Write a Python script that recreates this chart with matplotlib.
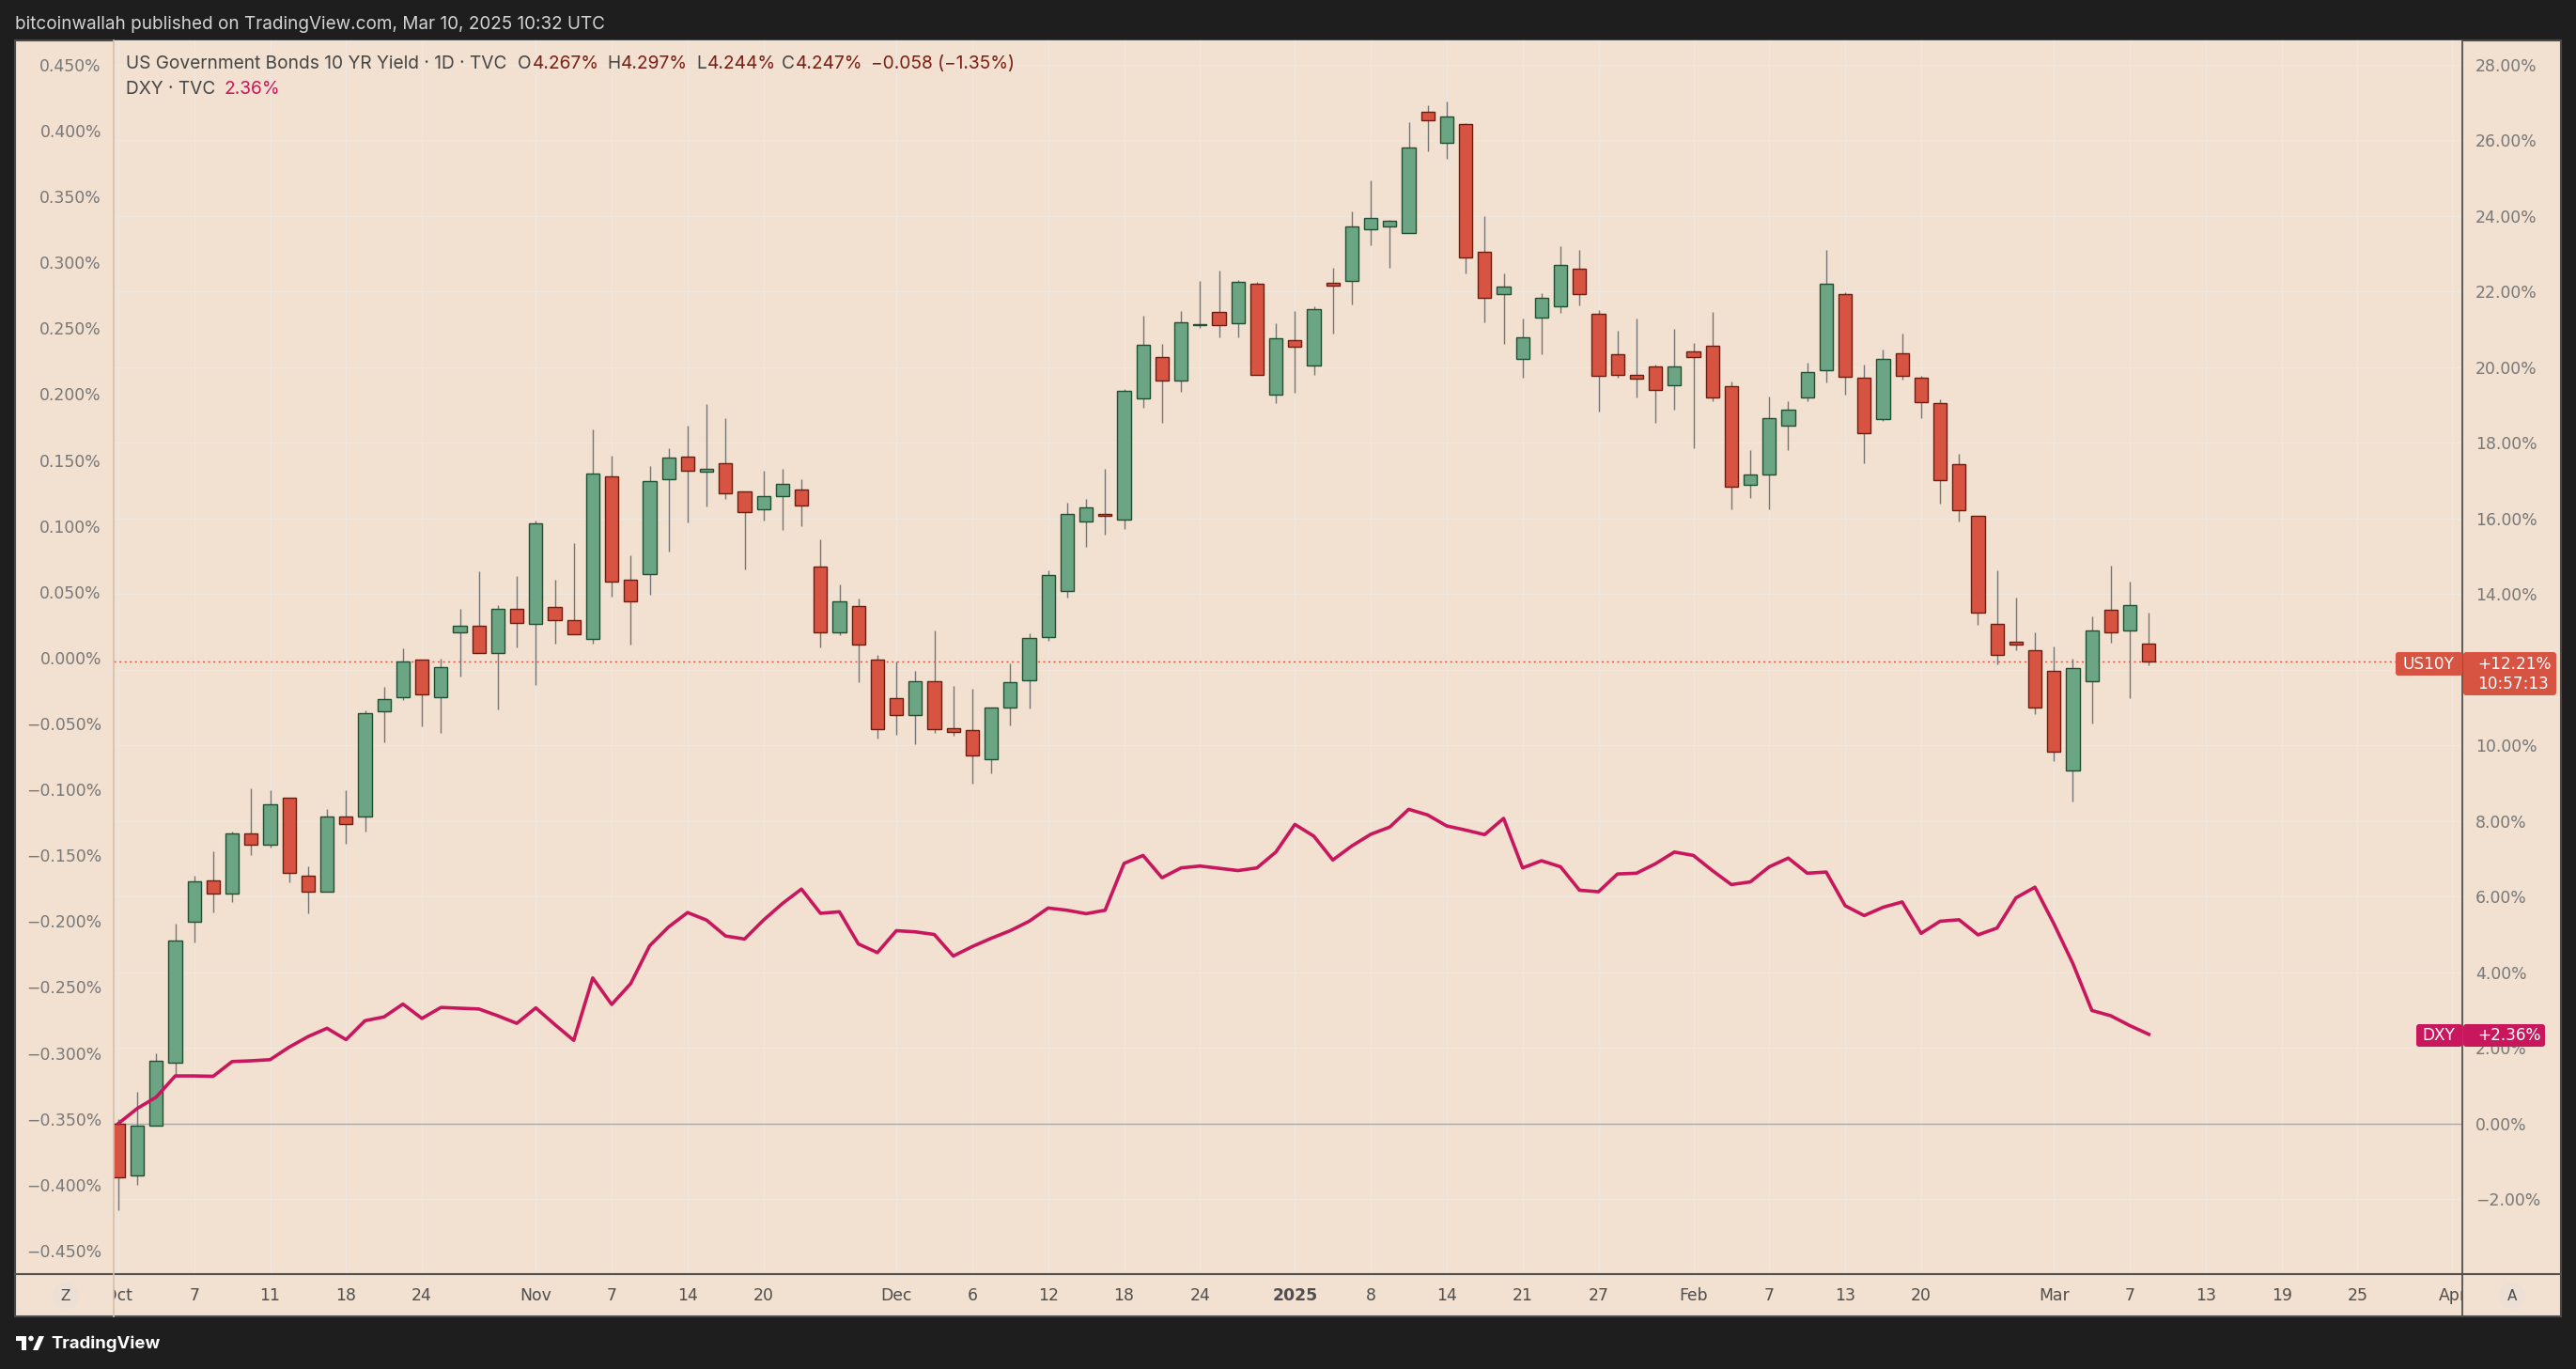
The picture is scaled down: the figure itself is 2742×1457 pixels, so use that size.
import numpy as np
import matplotlib.pyplot as plt
from matplotlib.patches import Rectangle, Circle, Polygon, FancyBboxPatch
from matplotlib.lines import Line2D
from matplotlib.transforms import IdentityTransform

W, H = 2742, 1457

# US10Y daily candles, % change vs first bar (right scale), Oct 1 2024 .. Mar 10 2025
us_open = [0.00, -1.37, -0.06, 1.61, 5.34, 6.43, 6.08, 7.66, 7.38, 8.62,
           6.55, 6.14, 8.12, 8.12, 10.91, 11.28, 12.28, 11.28, 12.99, 13.17,
           12.43, 13.60, 13.22, 13.66, 13.32, 12.81, 17.12, 14.38, 14.53, 17.04,
           17.64, 17.23, 17.46, 16.72, 16.25, 16.60, 16.77, 14.73, 13.00, 13.69,
           12.27, 11.25, 10.80, 11.70, 10.45, 10.41, 9.64, 11.00, 11.72, 12.87,
           14.08, 15.92, 16.11, 15.97, 19.18, 20.27, 19.65, 21.11, 21.47, 21.16,
           22.21, 19.27, 20.72, 20.05, 22.24, 22.29, 23.64, 23.73, 23.54, 26.74,
           25.94, 26.42, 23.06, 21.94, 20.23, 21.32, 21.62, 22.61, 21.41, 20.35,
           19.80, 20.01, 19.51, 20.42, 20.57, 19.50, 16.90, 17.16, 18.46, 19.20,
           19.93, 21.93, 19.73, 18.64, 20.37, 19.73, 19.04, 17.44, 16.06, 13.21,
           12.74, 12.51, 11.97, 9.34, 11.70, 13.59, 13.03, 12.69]
us_high = [0.11, 0.84, 1.85, 5.28, 6.55, 7.20, 7.72, 8.86, 8.81, 8.62,
           6.81, 8.33, 8.81, 10.92, 11.54, 12.57, 12.28, 12.29, 13.60, 14.61,
           13.71, 14.48, 15.94, 14.37, 15.34, 18.35, 17.65, 15.02, 17.38, 17.86,
           18.45, 19.02, 18.65, 16.72, 17.26, 17.31, 17.03, 15.44, 14.25, 13.88,
           12.38, 12.23, 11.96, 13.05, 11.56, 11.51, 11.00, 12.18, 12.97, 14.64,
           16.41, 16.51, 17.32, 19.43, 21.35, 20.61, 21.48, 22.28, 22.55, 22.31,
           22.26, 21.16, 21.48, 21.60, 22.62, 24.12, 24.93, 23.90, 26.48, 26.93,
           27.03, 26.46, 23.99, 22.48, 21.28, 21.95, 23.19, 23.10, 21.52, 20.96,
           21.28, 20.08, 21.01, 20.64, 21.46, 19.63, 17.80, 19.22, 19.09, 20.11,
           23.09, 21.99, 20.08, 20.46, 20.88, 19.78, 19.16, 17.70, 16.06, 14.62,
           13.92, 12.98, 12.61, 12.30, 13.42, 14.75, 14.32, 13.50]
us_low = [-2.30, -1.61, -0.06, 1.28, 4.80, 5.59, 5.86, 7.10, 7.31, 6.39,
          5.56, 6.14, 7.39, 7.72, 10.08, 11.19, 10.50, 10.34, 11.82, 12.43,
          10.94, 12.58, 11.60, 12.69, 12.94, 12.69, 13.94, 12.67, 13.98, 15.12,
          15.90, 16.32, 16.52, 14.65, 15.95, 15.70, 15.79, 12.59, 12.92, 11.68,
          10.18, 10.27, 10.04, 10.33, 10.26, 8.99, 9.26, 10.52, 10.98, 12.77,
          13.90, 15.26, 15.58, 15.73, 18.92, 18.52, 19.34, 21.03, 20.80, 20.80,
          19.79, 19.05, 19.33, 19.80, 20.88, 21.67, 23.22, 22.63, 23.54, 25.70,
          25.51, 22.48, 21.18, 20.61, 19.72, 20.35, 21.43, 21.63, 18.82, 19.72,
          19.19, 18.54, 18.88, 17.85, 19.11, 16.25, 16.53, 16.25, 17.81, 19.10,
          19.60, 19.28, 17.45, 18.57, 19.66, 18.65, 16.39, 15.93, 13.19, 12.15,
          12.52, 10.83, 9.58, 8.51, 10.59, 12.72, 11.25, 12.13]
us_close = [-1.42, -0.06, 1.66, 4.84, 6.41, 6.08, 7.66, 7.38, 8.43, 6.63,
            6.14, 8.12, 7.93, 10.86, 11.23, 12.22, 11.34, 12.08, 13.17, 12.43,
            13.60, 13.23, 15.88, 13.32, 12.94, 17.18, 14.33, 13.80, 17.00, 17.60,
            17.27, 17.32, 16.67, 16.18, 16.60, 16.92, 16.35, 13.00, 13.81, 12.67,
            10.43, 10.80, 11.70, 10.43, 10.36, 9.73, 11.00, 11.67, 12.85, 14.51,
            16.11, 16.29, 16.07, 19.37, 20.60, 19.65, 21.19, 21.13, 21.11, 22.26,
            19.79, 20.77, 20.54, 21.54, 22.15, 23.72, 23.95, 23.86, 25.80, 26.52,
            26.62, 22.89, 21.84, 22.12, 20.79, 21.84, 22.71, 21.94, 19.76, 19.80,
            19.70, 19.39, 20.01, 20.27, 19.21, 16.85, 17.16, 18.65, 18.88, 19.88,
            22.21, 19.74, 18.26, 20.22, 19.78, 19.08, 17.02, 16.22, 13.52, 12.40,
            12.66, 11.00, 9.83, 12.04, 13.03, 12.99, 13.71, 12.21]

# DXY close, % change vs first bar
dxy_pct = [0.00, 0.40, 0.70, 1.26, 1.26, 1.25, 1.64, 1.66, 1.69, 2.02,
           2.30, 2.52, 2.22, 2.72, 2.82, 3.16, 2.78, 3.07, 3.05, 3.03,
           2.85, 2.65, 3.06, 2.62, 2.20, 3.85, 3.15, 3.70, 4.70, 5.20,
           5.58, 5.38, 4.96, 4.88, 5.38, 5.82, 6.20, 5.56, 5.60, 4.75,
           4.52, 5.10, 5.07, 5.00, 4.43, 4.68, 4.90, 5.10, 5.35, 5.70,
           5.64, 5.55, 5.64, 6.88, 7.09, 6.50, 6.76, 6.81, 6.75, 6.69,
           6.76, 7.18, 7.91, 7.60, 6.97, 7.34, 7.65, 7.84, 8.31, 8.16,
           7.87, 7.76, 7.64, 8.07, 6.76, 6.95, 6.79, 6.17, 6.13, 6.60,
           6.62, 6.87, 7.18, 7.09, 6.69, 6.32, 6.39, 6.79, 7.02, 6.62,
           6.65, 5.76, 5.50, 5.72, 5.86, 5.03, 5.35, 5.39, 4.99, 5.17,
           5.97, 6.25, 5.28, 4.23, 2.99, 2.85, 2.59, 2.36]

price_ticks = list(range(-2, 30, 2))
yield_ticks = [round(v, 3) + 0.0 for v in np.arange(-0.45, 0.4501, 0.05)]

date_pos = [0, 4, 8, 12, 16, 22, 26, 30, 34, 41, 45, 49, 53, 57, 62, 66, 70, 74, 78,
            83, 87, 91, 95, 102, 106, 110, 114, 118, 123]
date_labels = ['Oct', '7', '11', '18', '24', 'Nov', '7', '14', '20', 'Dec', '6', '12', '18',
               '24', '2025', '8', '14', '21', '27', 'Feb', '7', '13', '20', 'Mar', '7', '13',
               '19', '25', 'Apr']

us_last = 12.21
dxy_last = 2.36

BG = '#f2e0d0'
GRID = '#efe6de'
UP, UP_EDGE = '#6ba583', '#1f5034'
DOWN, DOWN_EDGE = '#d75442', '#6d1c12'
DXY_COL = '#c8175d'
DARK = '#1e1e1e'

plt.rcParams['font.family'] = ['DejaVu Sans']

fig = plt.figure(figsize=(W / 100, H / 100), dpi=100, facecolor=DARK)
pix = IdentityTransform()
renderer = fig.canvas.get_renderer()


def py(y):
    return H - y


def fmt(v, nd):
    return f"{v:.{nd}f}%".replace('-', '\u2212')


# panel
fig.add_artist(Rectangle((16, py(1401)), 2710, 1358, transform=pix, facecolor=BG,
                         edgecolor='#4a4a4a', lw=1.5, zorder=-5))

x = np.arange(len(us_open))
o, h, l, c = map(np.array, (us_open, us_high, us_low, us_close))
up = c >= o

ax = fig.add_axes([121 / W, (H - 1356) / H, 2500 / W, 1313 / H])
ax.set_facecolor(BG)
ax.set_xlim(-0.243, 123.52)
ax.set_ylim(-3.98, 28.64)

for v in price_ticks:
    ax.axhline(v, color=GRID, lw=1.0, zorder=0)
for p in date_pos:
    ax.axvline(p, color=GRID, lw=1.0, zorder=0)
ax.axhline(0, color='#a9a9a9', lw=1.0, zorder=1)
ax.axhline(us_last, color=DOWN, lw=1.0, ls=(0, (1.5, 2.5)), zorder=1)

ax.vlines(x, l, h, color='#757575', lw=1.0, zorder=2)
ax.bar(x, np.abs(c - o), bottom=np.minimum(o, c), width=0.7,
       color=np.where(up, UP, DOWN), edgecolor=np.where(up, UP_EDGE, DOWN_EDGE),
       lw=1.0, zorder=3)
ax.plot(x, dxy_pct, color=DXY_COL, lw=2.6, zorder=4, solid_joinstyle='round')
ax.set_xticks([])

axl = ax.twinx()
ax.yaxis.tick_right()
axl.yaxis.tick_left()
# the tick hidden behind the US10Y price tag is not shown
ax.set_yticks(price_ticks, ['' if abs(v - us_last) < 0.6 else fmt(v, 2) for v in price_ticks])
ax.tick_params(axis='y', length=0, pad=10, labelsize=12.4, labelcolor='#787878')
axl.set_ylim(-0.4679, 0.4685)
axl.set_yticks(yield_ticks, [fmt(v, 3) for v in yield_ticks])
axl.tick_params(axis='y', length=0, pad=9.4, labelsize=12.4, labelcolor='#787878')
for a in (ax, axl):
    for s in a.spines.values():
        s.set_visible(False)

# time axis
tax = fig.add_axes([121 / W, (H - 1401) / H, 2500 / W, 45 / H])
tax.set_xlim(ax.get_xlim())
tax.set_ylim(0, 1)
tax.set_facecolor('none')
tax.set_xticks([])
tax.set_yticks([])
for s in tax.spines.values():
    s.set_visible(False)
for p, lab in zip(date_pos, date_labels):
    tax.text(p, 0.5, lab, ha='center', va='center', fontsize=12.4, color='#4f4f4f',
             fontweight='bold' if lab == '2025' else 'normal', clip_on=True)

# separators
fig.add_artist(Line2D([16, 2726], [py(1356)] * 2, transform=pix, color='#505050', lw=1.5))
fig.add_artist(Line2D([2621, 2621], [py(43), py(1401)], transform=pix, color='#505050', lw=1.3))
fig.add_artist(Line2D([121, 121], [py(43), py(1401)], transform=pix, color='#d2bfae', lw=1.2))

# Z / A buttons
for bx, letter in [(70, 'Z'), (2674, 'A')]:
    fig.add_artist(Circle((bx, py(1379)), 14, transform=pix, facecolor='#ece0d6', edgecolor='none'))
    fig.text(bx, py(1379), letter, transform=pix, ha='center', va='center', fontsize=11,
             color='#4a4a4a')


# price tags on the right
def tag(x0, x1, y0, y1, color, texts):
    fig.add_artist(FancyBboxPatch((x0, py(y1)), x1 - x0, y1 - y0, transform=pix,
                                  boxstyle='round,pad=0,rounding_size=3',
                                  facecolor=color, edgecolor='none', zorder=5))
    for tx, ty, s, ha in texts:
        fig.text(tx, py(ty), s, transform=pix, ha=ha, va='center', fontsize=12.2,
                 color='white', zorder=6)


tag(2550, 2621, 694, 719, DOWN, [(2585, 706.5, 'US10Y', 'center')])
tag(2622, 2721, 694, 740, DOWN, [(2637, 706.5, '+' + fmt(us_last, 2), 'left'),
                                 (2637, 728, '10:57:13', 'left')])
tag(2572, 2621, 1090, 1114, DXY_COL, [(2596, 1102, 'DXY', 'center')])
tag(2622, 2709, 1090, 1114, DXY_COL, [(2637, 1102, '+' + fmt(dxy_last, 2), 'left')])


def put(xp, yp, s, color, size, **kw):
    t = fig.text(xp, py(yp), s, transform=pix, color=color, fontsize=size, va='center',
                 ha='left', family=['Inter', 'DejaVu Sans'], **kw)
    return t


def fit(t, width):
    w = t.get_window_extent(renderer).width
    t.set_fontsize(t.get_fontsize() * width / w)
    return t


def end(t):
    return t.get_window_extent(renderer).x1


# top bar
fit(put(16, 26, 'bitcoinwallah published on TradingView.com, Mar 10, 2025 10:32 UTC',
        '#d4d4d4', 12), 627)

# legend rows
TXT = '#454545'
VAL = '#7b1f15'
title = fit(put(134, 68, 'US Government Bonds 10 YR Yield \u00b7 1D \u00b7 TVC', TXT, 12), 407)
fs = title.get_fontsize()
for lx, letter, val in [(551, 'O', '4.267%'), (646, 'H', '4.297%'),
                        (741, 'L', '4.244%'), (832, 'C', '4.247%')]:
    t = put(lx, 68, letter, TXT, fs)
    put(end(t) + 1, 68, val, VAL, fs)
put(927, 68, '\u22120.058 (\u22121.35%)', VAL, fs)
put(134, 94.5, 'DXY \u00b7 TVC', TXT, fs)
put(239, 94.5, fmt(dxy_last, 2), DXY_COL, fs)

# footer logo
fig.add_artist(Rectangle((17, py(1427)), 11, 5, transform=pix, facecolor='white', edgecolor='none'))
fig.add_artist(Rectangle((23, py(1437)), 5, 15, transform=pix, facecolor='white', edgecolor='none'))
fig.add_artist(Circle((33, py(1424.5)), 2.8, transform=pix, facecolor='white', edgecolor='none'))
fig.add_artist(Polygon([(35, py(1437)), (40.5, py(1437)), (47, py(1422)), (41.5, py(1422))],
                       closed=True, transform=pix, facecolor='white', edgecolor='none'))
fit(put(54, 1430, 'TradingView', 'white', 14, fontweight='bold'), 117)

fig.savefig('out.png', dpi=100, facecolor=DARK)
